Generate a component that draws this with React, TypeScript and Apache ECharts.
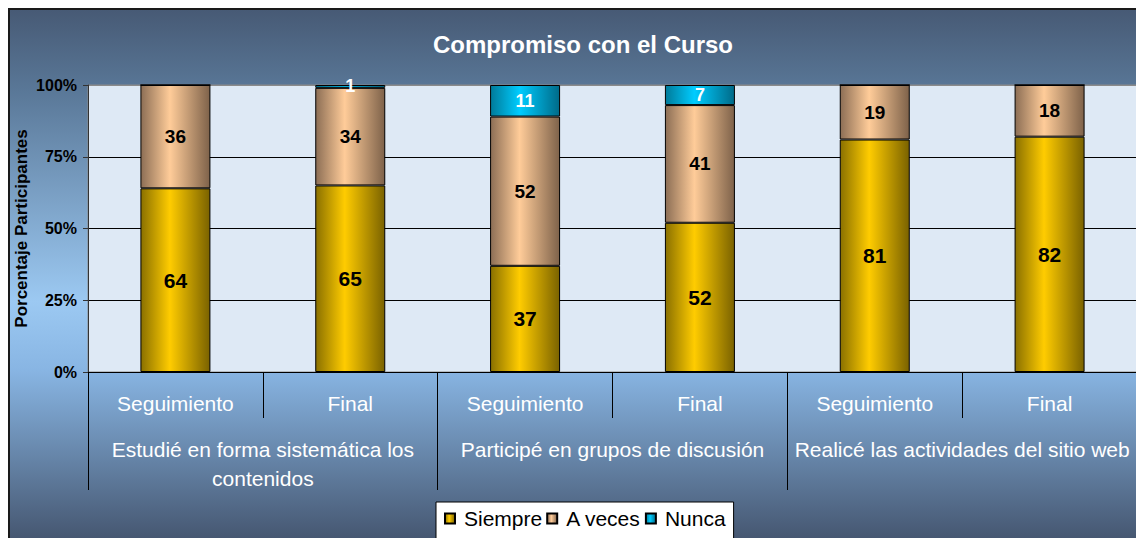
import React, { useEffect, useRef } from "react";
import * as echarts from "echarts";

const subCategories = ["Seguimiento", "Final", "Seguimiento", "Final", "Seguimiento", "Final"];
const groupCategories = [
  "Estudié en forma sistemática los\ncontenidos",
  "Participé en grupos de discusión",
  "Realicé las actividades del sitio web",
];
const siempre = [64, 65, 37, 52, 81, 82];
const aVeces = [36, 34, 52, 41, 19, 18];
const nunca = [0, 1, 11, 7, 0, 0];
const yTicks = [0, 25, 50, 75, 100];

const FONT = "Liberation Sans, Arial, sans-serif";

const grad = (dark: string, bright: string, darker: string) =>
  new echarts.graphic.LinearGradient(0, 0, 1, 0, [
    { offset: 0, color: dark },
    { offset: 0.42, color: bright },
    { offset: 1, color: darker },
  ]);

export default function App() {
  const ref = useRef<HTMLDivElement>(null);
  useEffect(() => {
    document.documentElement.style.overflow = "hidden";
    document.body.style.overflow = "hidden";
    const chart = echarts.init(ref.current!, null, { renderer: "svg" });
    const labelFmt = (p: any) => (p.value > 0 ? String(p.value) : "");
    chart.setOption({
      animation: false,
      textStyle: { fontFamily: FONT },
      graphic: [
        {
          type: "text",
          x: 573,
          y: 34,
          style: {
            text: "Compromiso con el Curso",
            fill: "#ffffff",
            fontSize: 24,
            fontWeight: "bold",
            fontFamily: FONT,
            align: "center",
            verticalAlign: "middle",
          },
        },
      ],
      legend: {
        left: 426,
        top: 492,
        backgroundColor: "#ffffff",
        borderColor: "#000000",
        borderWidth: 1,
        borderRadius: 0,
        padding: [6, 8, 12, 8],
        itemWidth: 10,
        itemHeight: 10,
        itemGap: 4,
        icon: "rect",
        textStyle: { color: "#000", fontSize: 21, fontFamily: FONT, padding: [0, 0, 0, 4] },
        data: ["Siempre", "A veces", "Nunca"],
      },
      grid: {
        left: 78,
        top: 75,
        width: 1049,
        height: 287,
        outerBoundsMode: "none",
        containLabel: false,
        show: true,
        backgroundColor: "#dee9f5",
        borderColor: "#8a8a8a",
        borderWidth: 1,
      },
      xAxis: [
        {
          type: "category",
          data: subCategories,
          position: "bottom",
          axisLine: { show: true, lineStyle: { color: "#000", width: 1 } },
          axisTick: { show: true, interval: 0, length: 46, lineStyle: { color: "#000", width: 1 } },
          axisLabel: { interval: 0, color: "#ffffff", fontSize: 21, fontFamily: FONT, margin: 21 },
        },
        {
          type: "category",
          data: groupCategories,
          position: "bottom",
          offset: 0,
          axisLine: { show: false },
          axisTick: { show: true, interval: 0, length: 118, lineStyle: { color: "#000", width: 1 } },
          axisLabel: {
            interval: 0,
            color: "#ffffff",
            fontSize: 21,
            fontFamily: FONT,
            margin: 63,
            lineHeight: 29,
          },
        },
      ],
      yAxis: {
        type: "value",
        min: 0,
        max: 100,
        interval: 25,
        name: "Porcentaje Participantes",
        nameLocation: "middle",
        nameGap: 58,
        nameRotate: 90,
        nameMoveOverlap: false,
        nameTextStyle: { color: "#000", fontSize: 17, fontWeight: "bold", fontFamily: FONT },
        axisLine: { show: true, lineStyle: { color: "#333", width: 1 } },
        axisTick: { show: true, length: 5, lineStyle: { color: "#333" } },
        axisLabel: {
          color: "#000",
          fontSize: 16,
          fontWeight: "bold",
          fontFamily: FONT,
          margin: 11,
          formatter: (v: number) => (yTicks.includes(v) ? v + "%" : ""),
        },
        splitLine: {
          show: true,
          lineStyle: { color: ["#000", "#000", "#000", "#000", "#8a8a8a"], width: 1 },
        },
      },
      series: [
        {
          name: "Siempre",
          type: "bar",
          stack: "total",
          barWidth: 70,
          data: siempre,
          itemStyle: { color: grad("#8a7000", "#ffcc00", "#7a6200"), borderColor: "#000", borderWidth: 1 },
          label: {
            show: true,
            position: "inside",
            color: "#000",
            fontSize: 21,
            fontWeight: "bold",
            fontFamily: FONT,
            formatter: labelFmt,
          },
        },
        {
          name: "A veces",
          type: "bar",
          stack: "total",
          barWidth: 70,
          data: aVeces,
          itemStyle: { color: grad("#8c6e55", "#ffcc99", "#7e624a"), borderColor: "#000", borderWidth: 1 },
          label: {
            show: true,
            position: "inside",
            color: "#000",
            fontSize: 19,
            fontWeight: "bold",
            fontFamily: FONT,
            formatter: labelFmt,
          },
        },
        {
          name: "Nunca",
          type: "bar",
          stack: "total",
          barWidth: 70,
          data: nunca,
          itemStyle: { color: grad("#007a99", "#00ccff", "#006a88"), borderColor: "#000", borderWidth: 1 },
          label: {
            show: true,
            position: "inside",
            color: "#fff",
            fontSize: 18,
            fontWeight: "bold",
            fontFamily: FONT,
            formatter: labelFmt,
          },
        },
      ],
    });
    return () => chart.dispose();
  }, []);

  return (
    <div
      style={{
        boxSizing: "border-box",
        width: 1136,
        height: 532,
        borderTop: "2px solid #1a1a1a",
        borderLeft: "2px solid #1a1a1a",
        background:
          "linear-gradient(to bottom, #475a75 0%, #597797 15%, #9cc9f2 55%, #88b5e3 68%, #6b8cb1 82%, #455670 100%)",
        position: "relative",
      }}
    >
      <div ref={ref} style={{ width: 1134, height: 530 }} />
    </div>
  );
}
